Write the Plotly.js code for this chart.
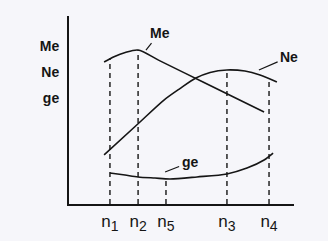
<!DOCTYPE html>
<html>
<head>
<meta charset="utf-8">
<script src="https://cdn.plot.ly/plotly-3.0.1.min.js"></script>
<style>html,body{margin:0;padding:0;background:#f6f6fa;}#chart{width:328px;height:241px;}</style>
</head>
<body>
<div id="chart"></div>
<script>
// Me curve (rises to a maximum at n2, then falls)
const meX = [15.6, 20, 25, 30.7, 40, 60, 86.7];
const meY = [75.5, 78.3, 80.6, 81.9, 76.4, 64.6, 48.9];
// Ne curve
const neX = [15.6, 30.7, 42.2, 49.3, 56.4, 62.7, 70.2, 78.2, 84.9, 92.4];
const neY = [26.1, 42.7, 55.3, 61.4, 67.0, 70.0, 71.3, 70.7, 68.6, 64.9];
// ge curve
const geX = [18.2, 24.9, 30.7, 38.2, 44.9, 56.9, 70.2, 79.1, 86.7, 90.7];
const geY = [16.5, 15.4, 14.4, 13.8, 13.3, 14.4, 16.0, 19.1, 23.4, 27.1];
// marked speeds on the n axis and the height of their dashed guides
const tickVals = [18.2, 30.7, 43.1, 70.2, 88.9];
const tickText = ['1', '2', '5', '3', '4'].map(d => 'n<sub><span style="font-size:14px">' + d + '</span></sub>');
const guideTop = [77.5, 81.9, 13.3, 71.3, 67.0];
// y-axis labels
const yLabelVals = [84, 70.2, 56.4];
const yLabelText = ['Me', 'Ne', 'ge'];
// curve labels: name, point on curve, label position
const curveNames = ['Me', 'Ne', 'ge'];
const curvePtX = [34.2, 84.4, 42.7];
const curvePtY = [81.9, 71.3, 17.0];
const curveLblX = [40.4, 97.8, 53.8];
const curveLblY = [91.0, 78.2, 22.3];

const ink = '#151515';
const traces = [];
[[meX, meY], [neX, neY], [geX, geY]].forEach(([x, y]) => {
  traces.push({x, y, mode: 'lines', line: {color: ink, width: 1.6, shape: 'spline', smoothing: 0.8}, hoverinfo: 'skip'});
});
tickVals.forEach((v, i) => {
  traces.push({x: [v, v], y: [0, guideTop[i]], mode: 'lines', line: {color: ink, width: 1.4, dash: '5px,4px'}, hoverinfo: 'skip'});
});

const annotations = curveNames.map((t, i) => ({
  x: curvePtX[i], y: curvePtY[i], ax: curveLblX[i], ay: curveLblY[i],
  xref: 'x', yref: 'y', axref: 'x', ayref: 'y',
  text: '<b>' + t + '</b>', showarrow: true, arrowhead: 0, arrowwidth: 1.2, arrowcolor: ink,
  standoff: 0, startstandoff: 1, font: {family: 'Liberation Sans, Arial, sans-serif', size: 14, color: ink}
}));
annotations.push({x: 103.6, y: -2.1, xref: 'x', yref: 'y', text: 'n', showarrow: false,
  font: {family: 'Liberation Sans, Arial, sans-serif', size: 16, color: ink}});

Plotly.newPlot('chart', traces, {
  width: 328, height: 241,
  margin: {l: 69, r: 34, t: 16, b: 37},
  paper_bgcolor: '#f6f6fa', plot_bgcolor: '#f6f6fa',
  showlegend: false,
  xaxis: {range: [0, 100], showgrid: false, zeroline: false, showline: true, linecolor: ink, linewidth: 2,
    tickvals: tickVals, ticktext: tickText, ticks: '', ticklabelstandoff: 1,
    tickfont: {family: 'Liberation Sans, Arial, sans-serif', size: 17, color: ink}, fixedrange: true},
  yaxis: {range: [0, 100], showgrid: false, zeroline: false, showline: true, linecolor: ink, linewidth: 2,
    tickvals: yLabelVals, ticktext: yLabelText.map(t => '<b>' + t + '</b>'), ticks: '', ticklabelstandoff: 5,
    tickfont: {family: 'Liberation Sans, Arial, sans-serif', size: 14, color: ink}, fixedrange: true},
  annotations
}, {staticPlot: true});
</script>
</body>
</html>
